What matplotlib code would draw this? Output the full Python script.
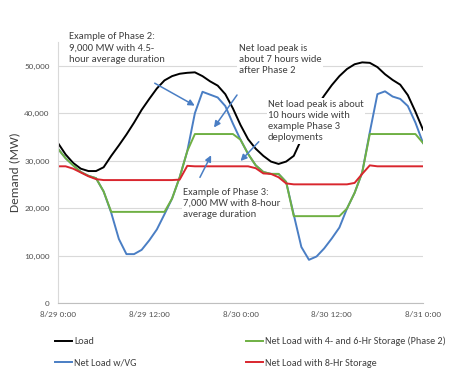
import matplotlib
matplotlib.use("Agg")
import matplotlib.pyplot as plt

plt.rcParams['font.family'] = ['Carlito', 'DejaVu Sans']

# hours from 8/29 0:00
hours = list(range(49))

load = [33700, 31300, 29500, 28300, 27800, 27800, 28600, 31000, 33200, 35500,
        38000, 40700, 43000, 45200, 46900, 47800, 48300, 48500, 48600, 47800,
        46700, 45800, 44000, 41000, 37500, 34500, 32500, 31000, 29800, 29300,
        29800, 31000, 34500, 38000, 41300, 43700, 45900, 47800, 49300, 50300,
        50700, 50600, 49700, 48200, 47000, 46000, 43800, 40300, 36500]

net_vg = [32500, 30500, 29000, 27600, 26800, 26300, 23500, 19000, 13500, 10300,
          10300, 11200, 13200, 15500, 18700, 22000, 26500, 32000, 40000, 44500,
          43900, 43300, 41500, 37800, 34400, 31400, 29000, 27600, 27200, 27200,
          25500, 18600, 11800, 9100, 9800, 11500, 13600, 15900, 19900, 23200,
          27500, 36000, 44000, 44600, 43500, 43000, 41500, 38000, 33700]

net_phase2 = [32500, 30500, 29000, 27600, 26800, 26300, 23500, 19200, 19200, 19200,
              19200, 19200, 19200, 19200, 19200, 22000, 26500, 32000, 35600, 35600,
              35600, 35600, 35600, 35600, 34400, 31400, 29000, 27600, 27200, 27200,
              25500, 18300, 18300, 18300, 18300, 18300, 18300, 18300, 19900, 23200,
              27500, 35600, 35600, 35600, 35600, 35600, 35600, 35600, 33700]

net_8hr = [28800, 28800, 28300, 27500, 26700, 26100, 25900, 25900, 25900, 25900,
           25900, 25900, 25900, 25900, 25900, 25900, 26000, 28900, 28800, 28800,
           28800, 28800, 28800, 28800, 28800, 28800, 28400, 27300, 27200, 26500,
           25200, 25000, 25000, 25000, 25000, 25000, 25000, 25000, 25000, 25300,
           27200, 29000, 28800, 28800, 28800, 28800, 28800, 28800, 28800]

xtick_pos = [0, 12, 24, 36, 48]
xtick_labels = ['8/29 0:00', '8/29 12:00', '8/30 0:00', '8/30 12:00', '8/31 0:00']
ytick_pos = [0, 10000, 20000, 30000, 40000, 50000]

fig = plt.figure(figsize=(4.51, 3.78), dpi=100)
ax = fig.add_axes([0.1286, 0.1984, 0.8094, 0.6906])

lw = 1.4
l1, = ax.plot(hours, load, color='black', lw=lw, label='Load')
l2, = ax.plot(hours, net_vg, color='#4A7EC4', lw=lw, label='Net Load w/VG')
l3, = ax.plot(hours, net_phase2, color='#6FB043', lw=lw,
              label='Net Load with 4- and 6-Hr Storage (Phase 2)')
l4, = ax.plot(hours, net_8hr, color='#D9262E', lw=lw, label='Net Load with 8-Hr Storage')

ax.set_xlim(0, 48)
ax.set_ylim(0, 55000)
ax.set_xticks(xtick_pos)
ax.set_xticklabels(xtick_labels)
ax.set_yticks(ytick_pos)
ax.set_yticklabels(['{:,}'.format(v) for v in ytick_pos])
ax.tick_params(axis='both', labelsize=6.6, colors='#595959', length=0, pad=6)
ax.grid(axis='y', color='#D9D9D9', lw=0.8)
ax.set_axisbelow(True)
for s in ['top', 'right']:
    ax.spines[s].set_visible(False)
ax.spines['left'].set_color('#D9D9D9')
ax.spines['bottom'].set_color('#BFBFBF')
ax.set_ylabel('Demand (MW)', fontsize=9.5, color='#404040')
ax.yaxis.set_label_coords(-0.104, 0.5)

# annotations
box = dict(facecolor='white', edgecolor='none', pad=1)
tstyle = dict(fontsize=7.6, color='#404040', va='top', ha='left', linespacing=1.3,
              bbox=box, zorder=5)
arrow = dict(arrowstyle='-|>', color='#4A7EC4', lw=1.1, mutation_scale=9)

ax.text(1.45, 57000, 'Example of Phase 2:\n9,000 MW with 4.5-\nhour average duration', **tstyle)
ax.annotate('', xy=(18.3, 41300), xytext=(12.4, 46600), arrowprops=arrow, zorder=6)

ax.text(23.75, 54600, 'Net load peak is\nabout 7 hours wide\nafter Phase 2', **tstyle)
ax.annotate('', xy=(20.3, 36500), xytext=(23.75, 44300), arrowprops=arrow, zorder=6)

ax.text(27.6, 42800, 'Net load peak is about\n10 hours wide with\nexample Phase 3\ndeployments', **tstyle)
ax.annotate('', xy=(23.75, 29500), xytext=(26.65, 34400), arrowprops=arrow, zorder=6)

ax.text(16.5, 24300, 'Example of Phase 3:\n7,000 MW with 8-hour\naverage duration', **tstyle)
ax.annotate('', xy=(20.3, 31650), xytext=(18.5, 25950), arrowprops=arrow, zorder=6)

fig.legend(handles=[l1, l2, l3, l4], loc='upper left', bbox_to_anchor=(0.102, 0.133),
           ncol=2, frameon=False, fontsize=7.3, labelcolor='#404040',
           handlelength=1.7, handletextpad=0.15, columnspacing=10.8, labelspacing=1.2)

fig.savefig('out.png', dpi=100)
